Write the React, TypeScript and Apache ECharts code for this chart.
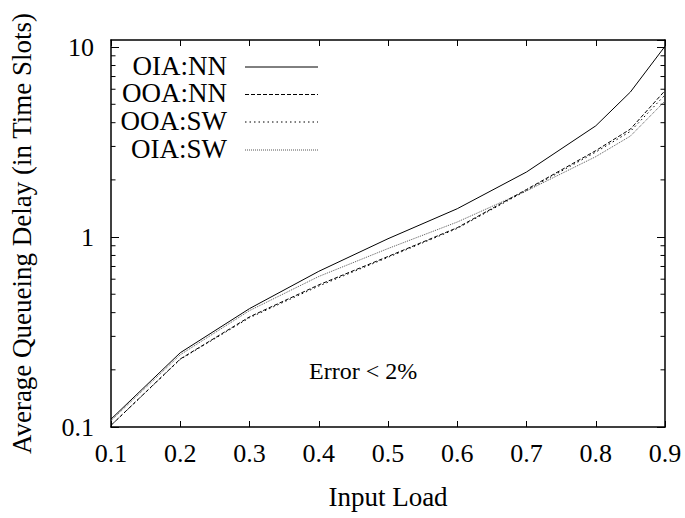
import React, { useEffect, useRef } from "react";
import * as echarts from "echarts";

const loads = [0.1, 0.2, 0.3, 0.4, 0.5, 0.6, 0.7, 0.8, 0.85, 0.9];
const oiaNN = [0.11, 0.246, 0.42, 0.66, 0.98, 1.41, 2.2, 3.85, 5.8, 10.1];
const ooaNN = [0.102, 0.228, 0.38, 0.56, 0.79, 1.12, 1.78, 2.85, 3.7, 5.9];
const ooaSW = [0.102, 0.227, 0.376, 0.552, 0.782, 1.11, 1.76, 2.8, 3.6, 5.6];
const oiaSW = [0.108, 0.24, 0.41, 0.62, 0.87, 1.2, 1.75, 2.65, 3.4, 5.2];
const seriesNames = ["OIA:NN", "OOA:NN", "OOA:SW", "OIA:SW"];
const yMinorTicks = [0.2, 0.3, 0.4, 0.5, 0.6, 0.7, 0.8, 0.9, 2, 3, 4, 5, 6, 7, 8, 9];
const annotation = "Error < 2%";

const FONT = "Liberation Serif";

export default function App() {
  const ref = useRef<HTMLDivElement>(null);
  useEffect(() => {
    document.body.style.margin = "0";
    if (!ref.current) return;
    const chart = echarts.init(ref.current, null, { renderer: "svg" });
    const allSeries = [oiaNN, ooaNN, ooaSW, oiaSW];
    const styles: any[] = [
      { type: "solid", color: "#000", width: 1 },
      { type: [4, 2], color: "#000", width: 1 },
      { type: [1.5, 3], color: "#000", width: 1 },
      { type: [1, 1], color: "#555", width: 1 },
    ];
    const legendY = [67, 94.5, 122, 150];
    const xCommon = {
      type: "value",
      min: 0.1,
      max: 0.9,
      interval: 0.1,
      splitLine: { show: false },
      axisLine: { show: true, onZero: false, lineStyle: { color: "#000", width: 1.5 } },
      axisTick: { show: true, inside: true, length: 6, lineStyle: { color: "#000", width: 1 } },
    };
    const yCommon = {
      type: "log",
      logBase: 10,
      min: 0.1,
      max: 10.9,
      splitLine: { show: false },
      axisLine: { show: true, onZero: false, lineStyle: { color: "#000", width: 1.5 } },
      axisTick: { show: true, inside: true, length: 8, lineStyle: { color: "#000", width: 1 } },
    };
    chart.setOption({
      animation: false,
      backgroundColor: "#fff",
      grid: { left: 105, right: 20, top: 40, bottom: 91, containLabel: false },
      xAxis: [
        {
          ...xCommon,
          position: "bottom",
          name: "Input Load",
          nameLocation: "middle",
          nameGap: 56,
          nameTextStyle: { fontFamily: FONT, fontSize: 27, color: "#000" },
          axisLabel: {
            show: true,
            margin: 13,
            fontFamily: FONT,
            fontSize: 26,
            color: "#000",
            formatter: (v: number) => String(Math.round(v * 10) / 10),
          },
        },
        { ...xCommon, position: "top", axisLabel: { show: false } },
      ],
      yAxis: [
        {
          ...yCommon,
          position: "left",
          name: "Average Queueing Delay (in Time Slots)",
          nameLocation: "middle",
          nameGap: 76,
          nameTextStyle: { fontFamily: FONT, fontSize: 27, color: "#000" },
          axisLabel: {
            show: true,
            margin: 17,
            fontFamily: FONT,
            fontSize: 26,
            color: "#000",
            showMaxLabel: false,
            formatter: (v: number) => {
              if (Math.abs(v - 0.1) < 1e-6) return "0.1";
              if (Math.abs(v - 1) < 1e-6) return "1";
              if (Math.abs(v - 10) < 1e-6) return "10";
              return "";
            },
          },
        },
        { ...yCommon, position: "right", axisLabel: { show: false } },
      ],
      series: [
        ...allSeries.map((vals, i) => ({
          name: seriesNames[i],
          type: "line",
          xAxisIndex: 0,
          yAxisIndex: 0,
          data: loads.map((x, j) => [x, vals[j]]),
          showSymbol: false,
          symbol: "none",
          lineStyle: styles[i],
          itemStyle: { color: styles[i].color },
          z: 4 - i,
        })),
        {
          type: "custom",
          name: "minorTicks",
          xAxisIndex: 0,
          yAxisIndex: 0,
          silent: true,
          clip: false,
          data: yMinorTicks.map((v) => [0.1, v]),
          renderItem: (params: any, api: any) => {
            const cs = params.coordSys;
            const p = api.coord([api.value(0), api.value(1)]);
            const y = p[1];
            const st = { stroke: "#000", lineWidth: 1 };
            return {
              type: "group",
              children: [
                { type: "line", shape: { x1: cs.x, y1: y, x2: cs.x + 4.5, y2: y }, style: st },
                { type: "line", shape: { x1: cs.x + cs.width - 4.5, y1: y, x2: cs.x + cs.width, y2: y }, style: st },
              ],
            };
          },
        },
      ],
      graphic: [
        ...seriesNames.map((n, i) => ({
          type: "text",
          right: 685 - 227,
          top: legendY[i] - 15,
          style: { text: n, font: `27px "${FONT}"`, fill: "#000", textAlign: "right" },
        })),
        ...seriesNames.map((n, i) => ({
          type: "line",
          shape: { x1: 245, y1: legendY[i], x2: 318, y2: legendY[i] },
          style: {
            stroke: styles[i].color,
            lineWidth: 1,
            lineDash: styles[i].type === "solid" ? null : styles[i].type,
          },
        })),
        {
          type: "text",
          left: 309,
          top: 359,
          style: { text: annotation, font: `24px "${FONT}"`, fill: "#000" },
        },
      ],
    });
    return () => chart.dispose();
  }, []);
  return <div ref={ref} style={{ width: 685, height: 518 }} />;
}
